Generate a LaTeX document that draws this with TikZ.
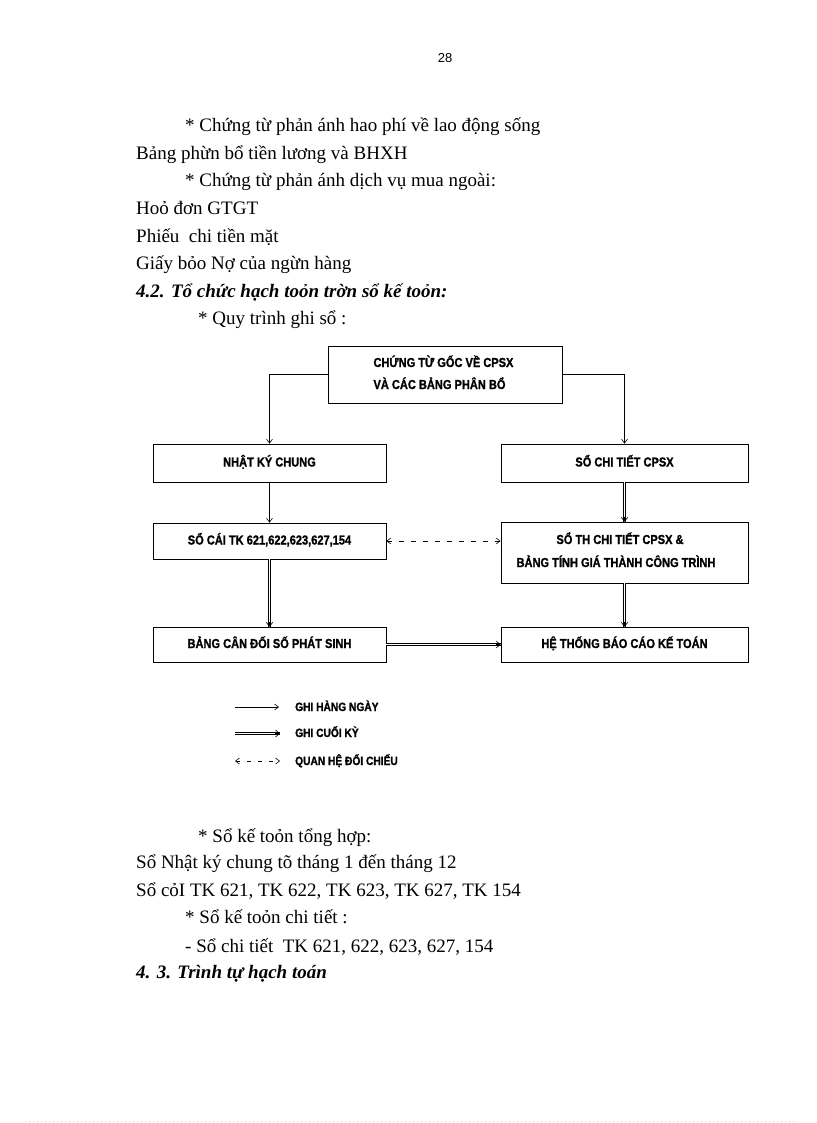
\documentclass[tikz,border=0pt]{standalone}
\usepackage{fontspec}
\setmainfont{Liberation Serif}
\newfontfamily\boxfont[FakeStretch=0.85, BoldFeatures={FakeBold=1.2}]{Liberation Sans}
\newfontfamily\numfont{Liberation Sans}
\usetikzlibrary{arrows.meta,calc}
\tikzset{
  box/.style={draw, line width=0.8pt, inner sep=0pt,
    font=\boxfont\bfseries\fontsize{13}{22}\selectfont,
    text height=9pt, text depth=2pt},
  boxtext/.style={inner sep=0pt, anchor=base,
    font=\boxfont\bfseries\fontsize{13}{22}\selectfont},
  legtext/.style={inner sep=0pt, anchor=base west,
    font=\boxfont\bfseries\fontsize{12}{14}\selectfont},
  body/.style={anchor=base west, inner sep=0pt,
    font=\fontsize{19}{22}\selectfont},
  head/.style={anchor=base west, inner sep=0pt,
    font=\bfseries\itshape\fontsize{19}{22}\selectfont},
  arr/.style={line width=0.6pt, -{Straight Barb[length=4pt,width=6pt]}},
  tipline/.style={line width=0.6pt, -{Straight Barb[length=4pt,width=7pt]}},
  dbl/.style={draw=black, double=white, double distance=1.3pt, line width=0.6pt},
  dsh/.style={line width=0.6pt, dash pattern=on 5pt off 7pt,
    {Straight Barb[length=4pt,width=6pt]}-{Straight Barb[length=4pt,width=6pt]}}
}
\begin{document}
\begin{tikzpicture}[x=1pt,y=-1pt]
\useasboundingbox (0,0) rectangle (816,1123);

% page number
\node[inner sep=0pt, anchor=base, font=\numfont\fontsize{13}{15}\selectfont] (pg) at (445,63) {28};

% body text above
\node[body] (b1) at (185,132) {* Chứng từ phản ánh hao phí về lao động sống};
\node[body] (b2) at (136,159.5) {Bảng phừn bổ tiền lương và BHXH};
\node[body] (b3) at (185,187) {* Chứng từ phản ánh dịch vụ mua ngoài:};
\node[body] (b4) at (136,214.5) {Hoỏ đơn GTGT};
\node[body] (b5) at (136,242) {Phiếu\ \ chi tiền mặt};
\node[body] (b6) at (136,269.5) {Giấy bỏo Nợ của ngừn hàng};
\node[head] (h1) at (136,297) {4.2. Tổ chức hạch toỏn trờn sổ kế toỏn:};
\node[body] (b7) at (198,324) {* Quy trình ghi sổ :};

% boxes
\node[box, minimum width=234pt, minimum height=57pt] (top) at (445,374.5) {};
\node[boxtext] (topa) at (445,367) {CHỨNG TỪ GỐC VỀ CPSX\phantom{I}};
\node[boxtext, anchor=base west] (topb) at (topa.base west) [yshift=-22pt] {VÀ CÁC BẢNG PHÂN BỔ};

\node[box, minimum width=233pt, minimum height=38pt] (nkc) at (269.5,463) {NHẬT KÝ CHUNG};
\node[box, minimum width=247pt, minimum height=38pt] (sct) at (624.5,463) {SỔ CHI TIẾT CPSX};
\node[box, minimum width=233pt, minimum height=36pt] (sc) at (269.5,541) {SỔ CÁI TK 621,622,623,627,154};
\node[box, minimum width=247pt, minimum height=61pt] (sth) at (624.5,552.5) {};
\node[boxtext] (stha) at (620,544) {SỔ TH CHI TIẾT CPSX \&};
\node[boxtext] (sthb) at (616,567) {BẢNG TÍNH GIÁ THÀNH CÔNG TRÌNH};
\node[box, minimum width=233pt, minimum height=35pt] (bcd) at (269.5,644.5) {BẢNG CÂN ĐỐI SỐ PHÁT SINH};
\node[box, minimum width=247pt, minimum height=35pt] (ht) at (624.5,644.5) {HỆ THỐNG BÁO CÁO KẾ TOÁN};

% connectors
\draw[arr] (top.west) -| (nkc.north);
\draw[arr] (top.east) -| (sct.north);
\draw[arr] (nkc.south) -- (sc.north);
\draw[dbl] (sct.south) -- (sth.north);
\draw[tipline] ([yshift=5pt]sth.north) -- (sth.north);
\draw[dbl] (sc.south) -- (bcd.north);
\draw[tipline] ([yshift=5pt]bcd.north) -- (bcd.north);
\draw[dbl] (sth.south) -- (ht.north);
\draw[tipline] ([yshift=5pt]ht.north) -- (ht.north);
\draw[dbl] (bcd.east) -- (ht.west);
\draw[tipline] ([xshift=-5pt]ht.west) -- (ht.west);
\draw[dsh] (sc.east) -- (sc.east -| sth.west);

% legend
\coordinate (lgA1) at (235,707); \coordinate (lgB1) at (279,707);
\coordinate (lgA2) at (235,733.5); \coordinate (lgB2) at (280,733.5);
\coordinate (lgA3) at (235,761); \coordinate (lgB3) at (280,761);
\draw[arr] (lgA1) -- (lgB1);
\draw[dbl] (lgA2) -- (lgB2);
\draw[tipline] ([xshift=-5pt]lgB2) -- (lgB2);
\draw[line width=0.6pt, dash pattern=on 4pt off 7pt,
  {Straight Barb[length=4pt,width=6pt]}-{Straight Barb[length=4pt,width=6pt]}] (lgA3) -- (lgB3);
\node[legtext] (g1) at (295,711) {GHI HÀNG NGÀY};
\node[legtext] (g2) at (295,737) {GHI CUỐI KỲ};
\node[legtext] (g3) at (295,765) {QUAN HỆ ĐỐI CHIẾU};

% body text below
\node[body] (c1) at (198,842) {* Sổ kế toỏn tổng hợp:};
\node[body] (c2) at (136,868) {Sổ Nhật ký chung tõ tháng 1 đến tháng 12};
\node[body] (c3) at (136,896) {Sổ cỏI TK 621, TK 622, TK 623, TK 627, TK 154};
\node[body] (c4) at (185,923) {* Sổ kế toỏn chi tiết :};
\node[body] (c5) at (185,952) {- Sổ chi tiết\ \ TK 621, 622, 623, 627, 154};
\node[head] (h2) at (136,978) {4. 3. Trình tự hạch toán};

% faint bottom rule
\draw[gray!35, line width=0.6pt, dash pattern=on 1pt off 3pt] (25,1121) -- (795,1121);
\end{tikzpicture}
\end{document}
